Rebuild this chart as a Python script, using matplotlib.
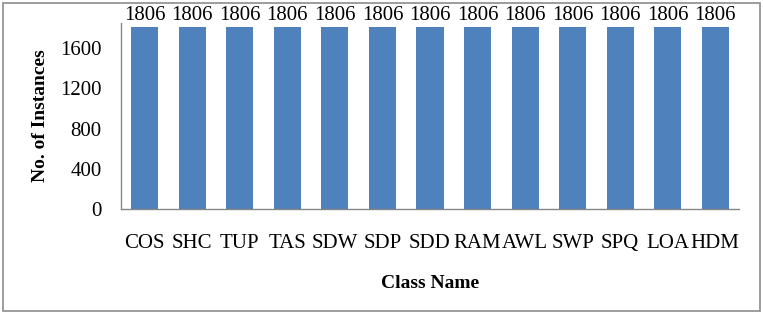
import matplotlib.pyplot as plt
from matplotlib.patches import Rectangle

classes = ['COS', 'SHC', 'TUP', 'TAS', 'SDW', 'SDP', 'SDD', 'RAM', 'AWL',
           'SWP', 'SPQ', 'LOA', 'HDM']
instances = [1806] * 13
y_ticks = [0, 400, 800, 1200, 1600]

plt.rcParams['font.family'] = ['Liberation Serif', 'DejaVu Serif']

fig = plt.figure(figsize=(7.63, 3.14), dpi=100)
ax = fig.add_axes([121 / 763, 1 - 209 / 314, 618 / 763, 186 / 314])

x = range(len(classes))
bars = ax.bar(x, instances, width=0.57, color='#4F81BD')
ax.bar_label(bars, labels=[str(v) for v in instances], padding=2, fontsize=15)

ax.set_xlim(-0.5, len(classes) - 0.5)
ax.set_ylim(0, 1850)
ax.set_yticks(y_ticks)
ax.set_xticks(list(x))
ax.set_xticklabels(classes)
ax.tick_params(axis='y', length=0, pad=14, labelsize=15)
ax.tick_params(axis='x', length=0, pad=18, labelsize=15)

for side in ['top', 'right']:
    ax.spines[side].set_visible(False)
for side in ['left', 'bottom']:
    ax.spines[side].set_color('#868686')
    ax.spines[side].set_linewidth(1.0)

ax.set_xlabel('Class Name', fontsize=14, fontweight='bold', labelpad=16)
ax.set_ylabel('No. of Instances', fontsize=14, fontweight='bold', labelpad=8)

fig.patches.append(Rectangle((3 / 763, 3 / 314), 757 / 763, 308 / 314,
                             transform=fig.transFigure, fill=False,
                             edgecolor='#8c8c8c', linewidth=1.2))

fig.savefig('out.png', dpi=100)
